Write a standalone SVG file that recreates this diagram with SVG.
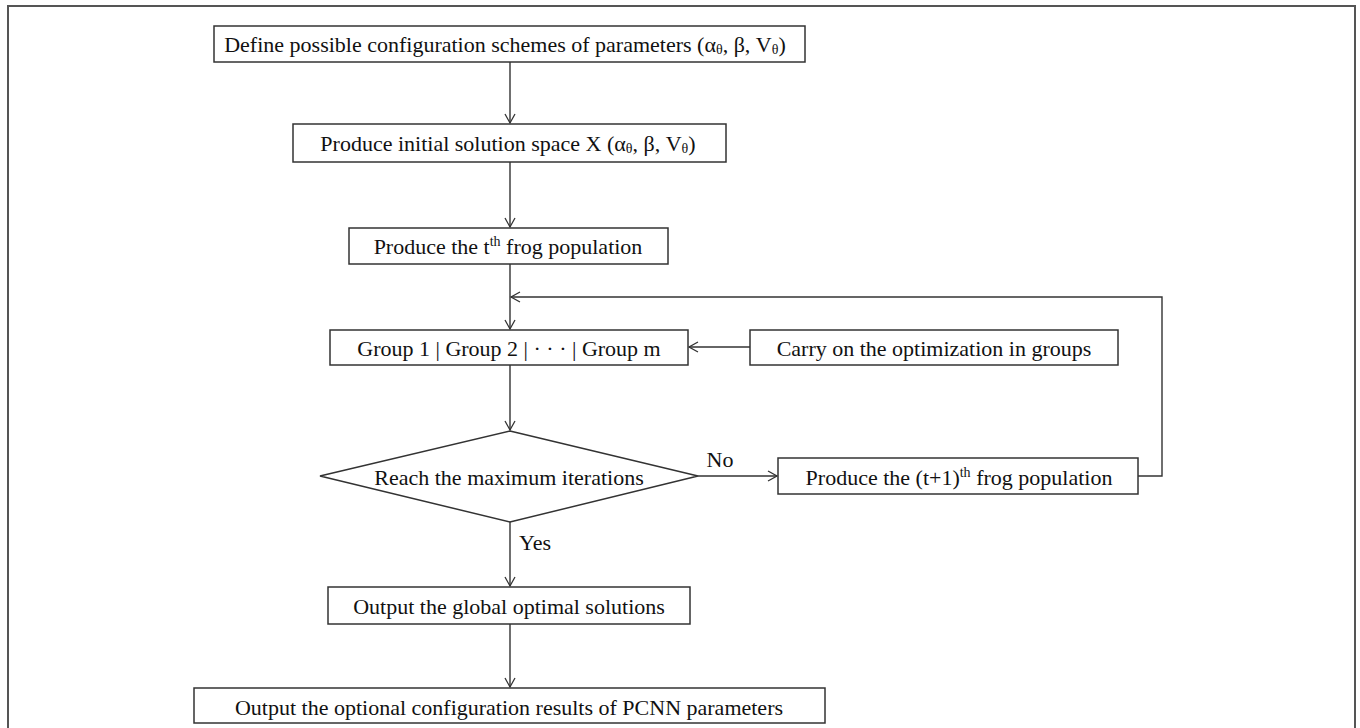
<svg xmlns="http://www.w3.org/2000/svg" width="1360" height="728" viewBox="0 0 1360 728">
<defs>
<marker id="arr" markerWidth="12" markerHeight="12" refX="10" refY="6" orient="auto" markerUnits="userSpaceOnUse">
<path d="M1,1 L10,6 L1,11" fill="none" stroke="#333" stroke-width="1.3"/>
</marker>
<style>
.box{fill:#fff;stroke:#333;stroke-width:1.5}
.t{font-family:"Liberation Serif","Times New Roman",serif;font-size:22px;fill:#111;text-anchor:middle;dominant-baseline:central}
.sub{font-size:14px}
.ln{fill:none;stroke:#333;stroke-width:1.4}
</style>
</defs>
<rect x="0" y="0" width="1360" height="728" fill="#fff"/>
<rect x="8" y="6" width="1347" height="740" fill="none" stroke="#555" stroke-width="2"/>
<g id="connectors">
<line class="ln" x1="510" y1="62" x2="510" y2="123" marker-end="url(#arr)"/>
<line class="ln" x1="510" y1="162" x2="510" y2="227" marker-end="url(#arr)"/>
<line class="ln" x1="510" y1="264" x2="510" y2="329" marker-end="url(#arr)"/>
<line class="ln" x1="510" y1="365" x2="510" y2="430" marker-end="url(#arr)"/>
<line class="ln" x1="510" y1="522" x2="510" y2="586" marker-end="url(#arr)"/>
<line class="ln" x1="510" y1="624" x2="510" y2="687" marker-end="url(#arr)"/>
<line class="ln" x1="750" y1="347" x2="689" y2="347" marker-end="url(#arr)"/>
<line class="ln" x1="698" y1="476" x2="777" y2="476" marker-end="url(#arr)"/>
<polyline class="ln" points="1138,476 1162,476 1162,297 511,297" marker-end="url(#arr)"/>
<text class="t" x="720" y="459">No</text>
<text class="t" x="535" y="542">Yes</text>
</g>
<g id="n1"><rect class="box" x="214" y="26" width="591" height="36"/>
<text class="t" x="505" y="44">Define possible configuration schemes of parameters (α<tspan class="sub" dy="5">θ</tspan><tspan dy="-5">, β, V</tspan><tspan class="sub" dy="5">θ</tspan><tspan dy="-5">)</tspan></text></g>
<g id="n2"><rect class="box" x="293" y="124" width="433" height="38"/>
<text class="t" x="508" y="143">Produce initial solution space X (α<tspan class="sub" dy="5">θ</tspan><tspan dy="-5">, β, V</tspan><tspan class="sub" dy="5">θ</tspan><tspan dy="-5">)</tspan></text></g>
<g id="n3"><rect class="box" x="349" y="228" width="319" height="36"/>
<text class="t" x="508" y="246">Produce the t<tspan class="sub" dy="-5">th</tspan><tspan dy="5"> frog population</tspan></text></g>
<g id="n4"><rect class="box" x="330" y="330" width="358" height="35"/>
<text class="t" x="509" y="348">Group 1 | Group 2 | · · · | Group m</text></g>
<g id="n5"><rect class="box" x="750" y="330" width="368" height="35"/>
<text class="t" x="934" y="348">Carry on the optimization in groups</text></g>
<g id="n6"><polygon class="box" points="510,431 698,476 510,522 320,476"/>
<text class="t" x="509" y="477">Reach the maximum iterations</text></g>
<g id="n7"><rect class="box" x="778" y="458" width="360" height="36"/>
<text class="t" x="959" y="477">Produce the (t+1)<tspan class="sub" dy="-5">th</tspan><tspan dy="5"> frog population</tspan></text></g>
<g id="n8"><rect class="box" x="328" y="587" width="362" height="37"/>
<text class="t" x="509" y="606">Output the global optimal solutions</text></g>
<g id="n9"><rect class="box" x="194" y="688" width="631" height="35"/>
<text class="t" x="509" y="707">Output the optional configuration results of PCNN parameters</text></g>
</svg>
